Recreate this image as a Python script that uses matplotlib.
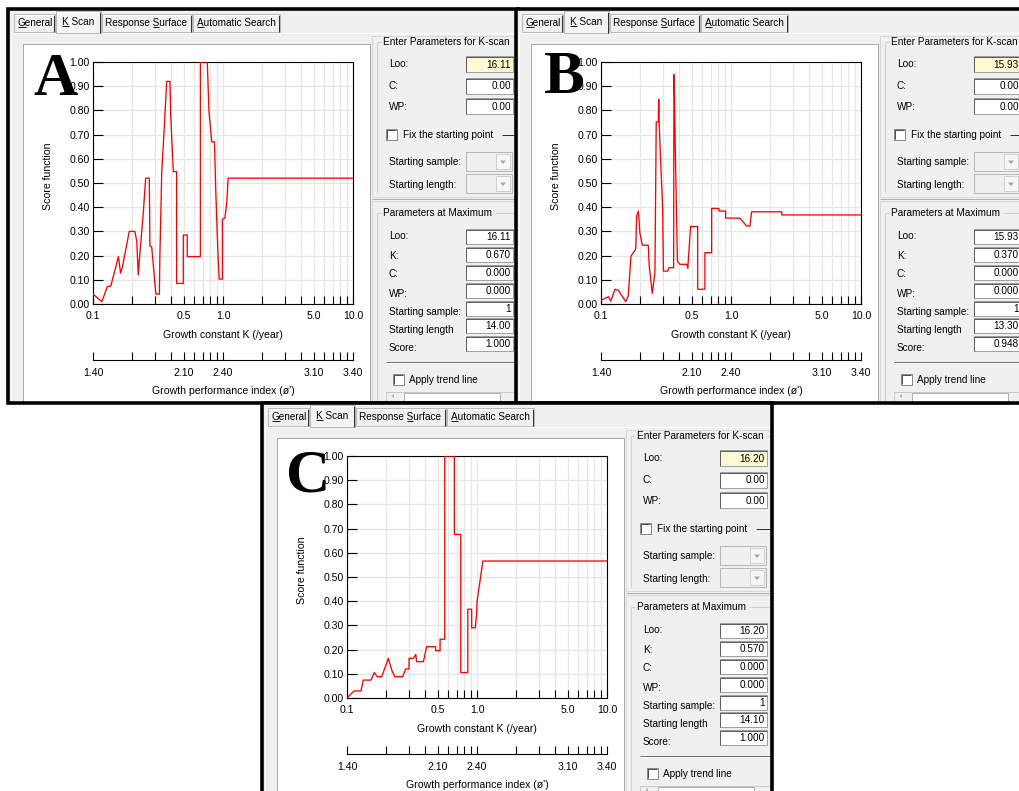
import matplotlib
matplotlib.use("Agg")
import matplotlib.pyplot as plt
from matplotlib.patches import Rectangle, Polygon
from matplotlib.ticker import NullLocator
from matplotlib.font_manager import FontProperties

plt.rcParams['font.family'] = ['Liberation Sans', 'DejaVu Sans']

W, H = 1019, 791

# ---------------- data ----------------
k_ticks = [0.1, 0.2, 0.3, 0.4, 0.5, 0.6, 0.7, 0.8, 0.9,
           1, 2, 3, 4, 5, 6, 7, 8, 9, 10]
k_labels = {0.1: '0.1', 0.5: '0.5', 1: '1.0', 5: '5.0', 10: '10.0'}
phi_labels = {0.1: '1.40', 0.5: '2.10', 1: '2.40', 5: '3.10', 10: '3.40'}
score_ticks = [0.0, 0.1, 0.2, 0.3, 0.4, 0.5, 0.6, 0.7, 0.8, 0.9, 1.0]

k_a = [0.100, 0.117, 0.129, 0.137, 0.157, 0.163, 0.168, 0.190, 0.210, 0.217,
       0.223, 0.230, 0.244, 0.254, 0.271, 0.274, 0.283, 0.300, 0.305, 0.324,
       0.327, 0.338, 0.351, 0.369, 0.391, 0.396, 0.415, 0.440, 0.440, 0.495,
       0.495, 0.531, 0.531, 0.670, 0.670, 0.757, 0.780, 0.820, 0.860, 0.880,
       0.900, 0.920, 0.935, 0.990, 0.990, 1.035, 1.070, 1.095, 10.0]
score_a = [0.041, 0.010, 0.072, 0.074, 0.196, 0.127, 0.150, 0.300, 0.300, 0.260,
           0.120, 0.216, 0.380, 0.520, 0.520, 0.240, 0.235, 0.079, 0.041, 0.041,
           0.200, 0.547, 0.700, 0.920, 0.920, 0.780, 0.547, 0.547, 0.085, 0.085,
           0.285, 0.285, 0.196, 0.196, 1.000, 1.000, 0.795, 0.670, 0.670, 0.464,
           0.313, 0.175, 0.103, 0.103, 0.350, 0.355, 0.423, 0.520, 0.520]

k_b = [0.100, 0.114, 0.119, 0.128, 0.136, 0.155, 0.162, 0.170, 0.177, 0.185,
       0.188, 0.194, 0.199, 0.208, 0.231, 0.235, 0.248, 0.260, 0.266, 0.276,
       0.278, 0.280, 0.288, 0.298, 0.302, 0.326, 0.333, 0.362, 0.364, 0.368,
       0.372, 0.378, 0.387, 0.405, 0.458, 0.465, 0.489, 0.554, 0.554, 0.630,
       0.630, 0.710, 0.710, 0.808, 0.808, 0.910, 0.910, 1.170, 1.320, 1.400,
       1.440, 2.460, 2.460, 10.0]
score_b = [0.015, 0.030, 0.012, 0.061, 0.057, 0.010, 0.033, 0.198, 0.212, 0.226,
           0.364, 0.384, 0.295, 0.243, 0.243, 0.157, 0.044, 0.130, 0.752, 0.752,
           0.846, 0.752, 0.584, 0.398, 0.136, 0.136, 0.150, 0.150, 0.948, 0.860,
           0.667, 0.474, 0.178, 0.164, 0.164, 0.148, 0.320, 0.320, 0.061, 0.061,
           0.212, 0.212, 0.395, 0.395, 0.384, 0.384, 0.355, 0.355, 0.322, 0.322,
           0.381, 0.381, 0.368, 0.368]

k_c = [0.100, 0.113, 0.128, 0.1335, 0.153, 0.162, 0.171, 0.185, 0.208, 0.223,
       0.234, 0.268, 0.283, 0.300, 0.300, 0.324, 0.338, 0.343, 0.387, 0.410,
       0.480, 0.480, 0.520, 0.520, 0.565, 0.565, 0.670, 0.670, 0.750, 0.750,
       0.850, 0.850, 0.910, 0.910, 0.970, 0.995, 1.000, 1.110, 10.0]
score_c = [0.000, 0.029, 0.029, 0.074, 0.074, 0.105, 0.088, 0.088, 0.164, 0.109,
           0.088, 0.088, 0.120, 0.120, 0.164, 0.164, 0.180, 0.150, 0.150, 0.212,
           0.212, 0.196, 0.196, 0.243, 0.243, 1.000, 1.000, 0.676, 0.676, 0.105,
           0.105, 0.367, 0.367, 0.290, 0.290, 0.350, 0.398, 0.566, 0.566]

panel_letters = ['A', 'B', 'C']
loo_entered = ['16.11', '15.93', '16.20']
max_loo = ['16.11', '15.93', '16.20']
max_k = ['0.670', '0.370', '0.570']
max_c = ['0.000', '0.000', '0.000']
max_wp = ['0.000', '0.000', '0.000']
start_sample = ['1', '1', '1']
start_length = ['14.00', '13.30', '14.10']
max_score = ['1.000', '0.948', '1.000']
tab_names = ['General', 'K Scan', 'Response Surface', 'Automatic Search']
tab_underline = [0, 0, 9, 0]

curves = [(k_a, score_a), (k_b, score_b), (k_c, score_c)]
offsets = [(0, 0), (508, 0), (254, 394)]

# ---------------- figure ----------------
fig = plt.figure(figsize=(W / 100, H / 100), dpi=100)
fig.patch.set_facecolor('white')
bg = fig.add_axes([0, 0, 1, 1])
bg.set_xlim(0, W)
bg.set_ylim(H, 0)
bg.axis('off')
renderer = fig.canvas.get_renderer()

GREY = '#f0f0f0'
GUI = 7.2
CH = 7.6
RIGHT = 516.5   # inner right edge of each window (panel A coordinates)


def R(x0, y0, x1, y1, fc='none', ec='none', lw=1.0, z=0):
    bg.add_patch(Rectangle((x0, y0), x1 - x0, y1 - y0, facecolor=fc,
                           edgecolor=ec, linewidth=lw * 0.72, zorder=z))


def L(xs, ys, c, lw=1.0, z=0):
    bg.plot(xs, ys, color=c, lw=lw * 0.72, zorder=z, solid_capstyle='butt')


def T(x, yc, s, size=GUI, ha='left', z=0, color='black', **kw):
    return bg.text(x, yc + 0.36 * size * 100 / 72, s, fontsize=size, ha=ha,
                   va='baseline', color=color, zorder=z, **kw)


def tw(s, size=GUI):
    fp = FontProperties(family=['Liberation Sans'], size=size)
    w, h, d = renderer.get_text_width_height_descent(s, fp, ismath=False)
    return w


def field(x0, y0, x1, y1, s, fc='white', z=0):
    R(x0, y0, x1, y1, fc=fc, ec='#a0a0a0', z=z)
    L([x0 + 0.5, x0 + 0.5, x1], [y1, y0 + 0.5, y0 + 0.5], '#606060', z=z)
    T(x1 - 2, (y0 + y1) / 2, s, ha='right', z=z)


def combo(x0, y0, x1, y1, z=0):
    R(x0, y0, x1, y1, fc=GREY, ec='#b8b8b8', z=z)
    R(x1 - 16, y0 + 2, x1 - 2, y1 - 2, fc='#f6f6f6', ec='#cfcfcf', z=z)
    cx, cy = x1 - 9, (y0 + y1) / 2 + 1
    bg.add_patch(Polygon([[cx - 3, cy - 2], [cx + 3, cy - 2], [cx, cy + 1.5]],
                         closed=True, fc='#a8a8a8', ec='none', zorder=z))


def checkbox(x0, y0, z=0):
    R(x0, y0, x0 + 11, y0 + 11, fc='white', ec='#8a8a8a', z=z)
    L([x0 + 1, x0 + 1, x0 + 10], [y0 + 10, y0 + 1, y0 + 1], '#505050', z=z)


def draw_panel(i, dx, dy):
    z = i * 10
    X = lambda v: v + dx
    Y = lambda v: v + dy
    RX = X(RIGHT)
    # window background
    R(X(8.5), Y(8.5), X(518.5), Y(402.5), fc=GREY, z=z)
    # page
    L([X(11), X(11)], [Y(32), Y(402)], '#ffffff', z=z)
    L([X(11), RX], [Y(32.5), Y(32.5)], '#ffffff', z=z)
    # tabs
    tabs = [(14, 55, 18), (56, 101, 62), (102, 192, 105), (193, 280, 197)]
    for j, (a, b, tx) in enumerate(tabs):
        top = 11 if j == 1 else 14
        bot = 33 if j == 1 else 32
        R(X(a), Y(top), X(b), Y(bot), fc=GREY if j != 1 else '#f4f4f4',
          ec='#b9b9b9', z=z)
        L([X(b) - 0.5, X(b) - 0.5], [Y(top + 1), Y(bot)], '#303030', z=z)
        L([X(a) + 1, X(b) - 1], [Y(top) + 1, Y(top) + 1], '#ffffff', z=z)
        name = tab_names[j]
        T(X(tx), Y(22.5 if j != 1 else 21.5), name, z=z)
        u = tab_underline[j]
        ux0 = X(tx) + tw(name[:u])
        ux1 = X(tx) + tw(name[:u + 1])
        uy = Y(27.3 if j != 1 else 26.3)
        L([ux0, ux1], [uy, uy], 'black', lw=0.9, z=z)
    # white chart panel
    R(X(23.5), Y(43.5), X(370), Y(403), fc='white', ec='#a8a8a8', z=z)
    # right panels
    R(X(372.5), Y(35.5), RX, Y(197), fc=GREY, ec='#d8d8d8', z=z)
    R(X(372.5), Y(200.5), RX, Y(403), fc=GREY, ec='#d8d8d8', z=z)
    L([X(372), RX], [Y(198.5), Y(198.5)], '#b0b0b0', z=z)
    # group box 1
    t1 = 'Enter Parameters for K-scan'
    w1 = tw(t1)
    L([X(377.5), X(377.5)], [Y(42), Y(193)], '#d0d0d0', z=z)
    L([X(377.5), X(381)], [Y(41.5), Y(41.5)], '#d0d0d0', z=z)
    L([X(384) + w1 + 2, RX], [Y(41.5), Y(41.5)], '#d0d0d0', z=z)
    T(X(383), Y(41.5), t1, z=z)
    T(X(389), Y(63), 'Loo:', z=z)
    field(X(466), Y(56), X(513), Y(72), loo_entered[i], fc='#fbfbd3', z=z)
    T(X(389), Y(85), 'C:', z=z)
    field(X(466), Y(78), X(513), Y(93.5), '0.00', z=z)
    T(X(389), Y(106), 'WP:', z=z)
    field(X(466), Y(98), X(513), Y(114), '0.00', z=z)
    checkbox(X(386), Y(129), z=z)
    T(X(403), Y(134.5), 'Fix the starting point', z=z)
    L([X(502), RX], [Y(135), Y(135)], '#303030', z=z)
    T(X(389), Y(161.5), 'Starting sample:', z=z)
    combo(X(466), Y(152), X(512), Y(171), z=z)
    T(X(389), Y(184), 'Starting length:', z=z)
    combo(X(466), Y(174), X(512), Y(193), z=z)
    # group box 2
    t2 = 'Parameters at Maximum'
    w2 = tw(t2)
    L([X(377.5), X(377.5)], [Y(213), Y(403)], '#d0d0d0', z=z)
    L([X(377.5), X(381)], [Y(212.5), Y(212.5)], '#d0d0d0', z=z)
    L([X(384) + w2 + 2, RX], [Y(212.5), Y(212.5)], '#d0d0d0', z=z)
    T(X(383), Y(212.5), t2, z=z)
    rows = [('Loo:', 235.5, 229, 244, max_loo[i]),
            ('K:', 255.5, 247, 262, max_k[i]),
            ('C:', 273, 265, 280, max_c[i]),
            ('WP:', 293.5, 283, 298, max_wp[i]),
            ('Starting sample:', 311.5, 301, 316, start_sample[i]),
            ('Starting length', 329.5, 318, 333, start_length[i]),
            ('Score:', 347, 336, 351, max_score[i])]
    for lab, ly, fy0, fy1, val in rows:
        T(X(389), Y(ly), lab, z=z)
        field(X(466), Y(fy0), X(513), Y(fy1), val, z=z)
    L([X(386), RX], [Y(362), Y(362)], '#707070', z=z)
    L([X(386), RX], [Y(363), Y(363)], '#ffffff', z=z)
    checkbox(X(393), Y(374), z=z)
    T(X(409), Y(379.5), 'Apply trend line', z=z)
    # scroll bar
    R(X(386.5), Y(391.5), RX, Y(404), fc=GREY, ec='#c8c8c8', z=z)
    R(X(404.5), Y(392.5), X(500), Y(404), fc='white', ec='#b0b0b0', z=z)
    bg.add_patch(Polygon([[X(391.5), Y(396)], [X(394), Y(394)], [X(394), Y(398)]],
                         closed=True, fc='#b0b0b0', ec='none', zorder=z))
    # axis titles
    T(X(223), Y(334.5), 'Growth constant K (/year)', size=CH, ha='center', z=z)
    T(X(223), Y(390), "Growth performance index (\u00f8')", size=CH, ha='center', z=z)
    bg.text(X(48), Y(176), 'Score function', rotation=90, fontsize=CH,
            ha='center', va='center', zorder=z)
    # window frame
    R(X(8.5), Y(8.5), X(518.5), Y(402.5), ec='black', lw=3.6, z=z + 9)


def draw_plot(i, dx, dy):
    K, S = curves[i]
    ax = fig.add_axes([(93 + dx) / W, 1 - (304 + dy) / H, 260 / W, 242 / H])
    ax.set_xscale('log')
    ax.set_xlim(0.1, 10)
    ax.set_ylim(0, 1)
    ax.set_xticks(k_ticks, [k_labels.get(t, '') for t in k_ticks])
    ax.xaxis.set_minor_locator(NullLocator())
    ax.set_yticks(score_ticks, ['%.2f' % v for v in score_ticks])
    ax.grid(True, color='#e6e6e6', lw=0.9)
    ax.set_axisbelow(True)
    ax.tick_params(axis='x', direction='in', length=6, width=0.8, pad=5,
                   labelsize=CH, colors='black')
    ax.tick_params(axis='y', direction='in', length=7, width=0.8, pad=2.5,
                   labelsize=CH, colors='black')
    for sp in ax.spines.values():
        sp.set_linewidth(0.8)
    ax.plot(K, S, color='#ff0000', lw=0.95, zorder=3)

    pax = fig.add_axes([(93 + dx) / W, 1 - (360 + dy) / H, 260 / W, 1 / H])
    pax.set_xscale('log')
    pax.set_xlim(0.1, 10)
    pax.patch.set_visible(False)
    for s in ['left', 'right', 'top']:
        pax.spines[s].set_visible(False)
    pax.spines['bottom'].set_linewidth(0.8)
    pax.set_yticks([])
    pax.set_xticks(k_ticks, [phi_labels.get(t, '') for t in k_ticks])
    pax.xaxis.set_minor_locator(NullLocator())
    pax.tick_params(axis='x', direction='in', length=6, width=0.8, pad=6,
                    labelsize=CH)


for i, (dx, dy) in enumerate(offsets):
    draw_panel(i, dx, dy)
for i, (dx, dy) in enumerate(offsets):
    draw_plot(i, dx, dy)

letter_pos = [(33, 95), (544, 93), (286, 491)]
for i, (lx, ly) in enumerate(letter_pos):
    fig.text(lx / W, 1 - ly / H, panel_letters[i], fontsize=44,
             family='Liberation Serif', weight='bold', ha='left',
             va='baseline', zorder=10)

fig.savefig('out.png', dpi=100, facecolor='white')
